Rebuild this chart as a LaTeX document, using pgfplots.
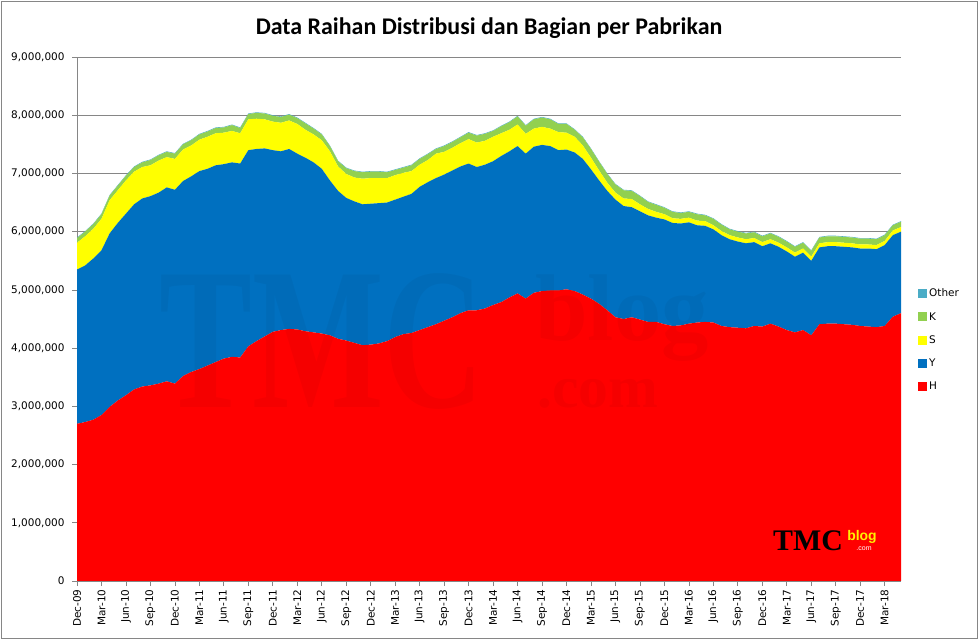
\documentclass[border=0pt]{standalone}
\usepackage{fontspec}
\setmainfont{DejaVu Sans}
\newfontfamily\titlefont{Carlito}
\newfontfamily\seriffont{Liberation Serif}
\newfontfamily\logosans{Liberation Sans}
\usepackage{pgfplots}
\usepackage{pgfplotstable}
\pgfplotsset{compat=1.18}
\definecolor{cH}{HTML}{FF0000}
\definecolor{cY}{HTML}{0070C0}
\definecolor{cS}{HTML}{FFFF00}
\definecolor{cK}{HTML}{92D050}
\definecolor{cO}{HTML}{4BACC6}
\definecolor{axgray}{HTML}{868686}
\pgfplotstableread{
i H Y S K O
0 2700000 2650000 460000 80000 10000
1 2730000 2690000 500000 80000 10000
2 2770000 2770000 510000 80000 10000
3 2850000 2830000 540000 80000 10000
4 2990000 2980000 570000 80000 10000
5 3100000 3050000 560000 80000 10000
6 3190000 3120000 570000 80000 10000
7 3290000 3180000 560000 80000 10000
8 3340000 3230000 540000 80000 10000
9 3360000 3250000 530000 90000 10000
10 3390000 3280000 550000 90000 10000
11 3430000 3330000 520000 90000 10000
12 3390000 3330000 530000 90000 10000
13 3520000 3350000 540000 90000 10000
14 3590000 3360000 530000 90000 10000
15 3640000 3400000 540000 90000 10000
16 3700000 3380000 550000 90000 10000
17 3760000 3380000 550000 90000 10000
18 3820000 3340000 540000 90000 10000
19 3850000 3340000 540000 100000 10000
20 3840000 3330000 520000 90000 10000
21 4030000 3370000 530000 90000 10000
22 4120000 3300000 520000 100000 10000
23 4200000 3230000 500000 100000 10000
24 4280000 3120000 490000 100000 10000
25 4310000 3070000 490000 100000 10000
26 4330000 3090000 490000 100000 10000
27 4320000 3020000 510000 100000 10000
28 4290000 2980000 480000 110000 10000
29 4270000 2920000 480000 100000 10000
30 4250000 2830000 490000 100000 10000
31 4220000 2660000 500000 90000 10000
32 4160000 2540000 420000 90000 10000
33 4130000 2450000 410000 100000 10000
34 4090000 2430000 410000 110000 10000
35 4050000 2420000 440000 110000 10000
36 4060000 2420000 440000 110000 10000
37 4080000 2410000 430000 110000 10000
38 4120000 2380000 420000 100000 10000
39 4190000 2360000 420000 90000 10000
40 4240000 2360000 410000 90000 10000
41 4260000 2390000 390000 100000 10000
42 4310000 2460000 380000 100000 10000
43 4360000 2490000 380000 100000 10000
44 4410000 2510000 420000 80000 10000
45 4470000 2510000 390000 100000 10000
46 4530000 2520000 390000 100000 10000
47 4600000 2520000 400000 100000 10000
48 4650000 2520000 420000 110000 10000
49 4650000 2460000 420000 120000 10000
50 4680000 2470000 410000 120000 10000
51 4740000 2470000 420000 100000 10000
52 4790000 2510000 390000 120000 10000
53 4870000 2510000 370000 130000 10000
54 4940000 2530000 370000 140000 10000
55 4850000 2490000 340000 140000 10000
56 4950000 2510000 310000 160000 10000
57 4980000 2510000 310000 160000 10000
58 4990000 2480000 300000 160000 10000
59 4990000 2410000 310000 140000 10000
60 5010000 2400000 290000 150000 10000
61 4980000 2380000 270000 120000 10000
62 4920000 2330000 230000 140000 10000
63 4850000 2220000 200000 150000 10000
64 4760000 2120000 170000 150000 10000
65 4650000 2050000 140000 150000 10000
66 4530000 2020000 120000 140000 10000
67 4500000 1940000 130000 140000 10000
68 4530000 1890000 140000 140000 10000
69 4490000 1860000 120000 140000 10000
70 4450000 1830000 110000 120000 10000
71 4450000 1790000 100000 120000 10000
72 4410000 1800000 90000 110000 10000
73 4380000 1770000 80000 110000 10000
74 4390000 1750000 80000 100000 10000
75 4420000 1740000 80000 100000 10000
76 4440000 1670000 80000 110000 10000
77 4450000 1650000 80000 100000 10000
78 4440000 1600000 70000 110000 10000
79 4380000 1560000 70000 110000 10000
80 4360000 1510000 70000 100000 10000
81 4350000 1480000 70000 100000 10000
82 4340000 1460000 70000 100000 10000
83 4380000 1440000 70000 100000 10000
84 4370000 1380000 70000 100000 10000
85 4420000 1380000 70000 100000 10000
86 4370000 1370000 70000 100000 10000
87 4310000 1350000 70000 100000 10000
88 4270000 1300000 70000 100000 10000
89 4310000 1330000 70000 100000 10000
90 4220000 1280000 70000 100000 10000
91 4410000 1320000 70000 100000 10000
92 4420000 1330000 70000 100000 10000
93 4420000 1330000 70000 100000 10000
94 4410000 1330000 70000 100000 10000
95 4400000 1330000 70000 100000 10000
96 4380000 1330000 70000 100000 10000
97 4370000 1340000 70000 100000 10000
98 4360000 1340000 70000 100000 10000
99 4380000 1390000 70000 100000 10000
100 4540000 1400000 80000 90000 10000
101 4600000 1400000 80000 90000 10000
}\data

\begin{document}
\begin{tikzpicture}
\path[use as bounding box] (0bp,0bp) rectangle (979bp,640bp);
\draw[axgray, line width=0.75bp] (1.5bp,1.5bp) rectangle (977.5bp,638.5bp);
\node[font=\titlefont\bfseries\fontsize{24}{28}\selectfont] at (489bp,612bp) {Data Raihan Distribusi dan Bagian per Pabrikan};
\begin{axis}[
  at={(77bp,59bp)}, anchor=south west,
  scale only axis, width=824bp, height=524bp,
  stack plots=y,
  xmin=0, xmax=101, ymin=0, ymax=9000000,
  axis x line=bottom, axis y line=left,
  axis line style={draw=axgray, line width=0.75bp, -},
  ytick={0,1000000,2000000,3000000,4000000,5000000,6000000,7000000,8000000,9000000},
  scaled y ticks=false,
  yticklabel style={/pgf/number format/fixed, /pgf/number format/1000 sep={,}, /pgf/number format/assume math mode=true, /tikz/xshift=-4bp},
  ymajorgrids, grid style={draw=axgray, line width=0.75bp},
  xtick={0,3,...,99},
  xticklabels={Dec-09,Mar-10,Jun-10,Sep-10,Dec-10,Mar-11,Jun-11,Sep-11,Dec-11,Mar-12,Jun-12,Sep-12,Dec-12,Mar-13,Jun-13,Sep-13,Dec-13,Mar-14,Jun-14,Sep-14,Dec-14,Mar-15,Jun-15,Sep-15,Dec-15,Mar-16,Jun-16,Sep-16,Dec-16,Mar-17,Jun-17,Sep-17,Dec-17,Mar-18},
  xticklabel style={rotate=90, anchor=east},
  tick label style={font=\fontsize{10.5}{12}\selectfont, text=black},
  tick style={draw=axgray, line width=0.75bp},
  tick align=outside, major tick length=5bp,
  legend style={at={(1.017,0.46)}, anchor=west, draw=none, fill=none,
    font=\fontsize{10.5}{12}\selectfont, row sep=10bp},
  legend cell align=left,
  reverse legend,
  legend image code/.code={\path[#1] (0bp,-4.5bp) rectangle (9bp,4.5bp);},
]
\addplot[fill=cH, draw=none] table[x=i, y=H] {\data} \closedcycle;
\addplot[fill=cY, draw=none] table[x=i, y=Y] {\data} \closedcycle;
\addplot[fill=cS, draw=none] table[x=i, y=S] {\data} \closedcycle;
\addplot[fill=cK, draw=none] table[x=i, y=K] {\data} \closedcycle;
\addplot[fill=cO, draw=none] table[x=i, y=O] {\data} \closedcycle;
\legend{H, Y, S, K, Other}
\end{axis}
% faint watermark
\node[font=\seriffont\bfseries\fontsize{140}{140}\selectfont, text=black, opacity=0.04, yscale=1.45] at (322bp,298bp) {TMC};
\node[font=\seriffont\bfseries\fontsize{95}{95}\selectfont, text=black, opacity=0.04, inner sep=0pt] at (622bp,322bp) {blog};
\node[font=\seriffont\bfseries\fontsize{60}{60}\selectfont, text=black, opacity=0.04, inner sep=0pt] at (598bp,246bp) {.com};
% small logo
\node[font=\seriffont\bfseries\fontsize{30}{30}\selectfont, text=black] at (808bp,99bp) {TMC};
\node[font=\logosans\bfseries\fontsize{14}{14}\selectfont, text=yellow] at (862bp,103bp) {blog};
\node[font=\logosans\fontsize{7}{7}\selectfont, text=white] at (864bp,91bp) {.com};
\end{tikzpicture}
\end{document}
